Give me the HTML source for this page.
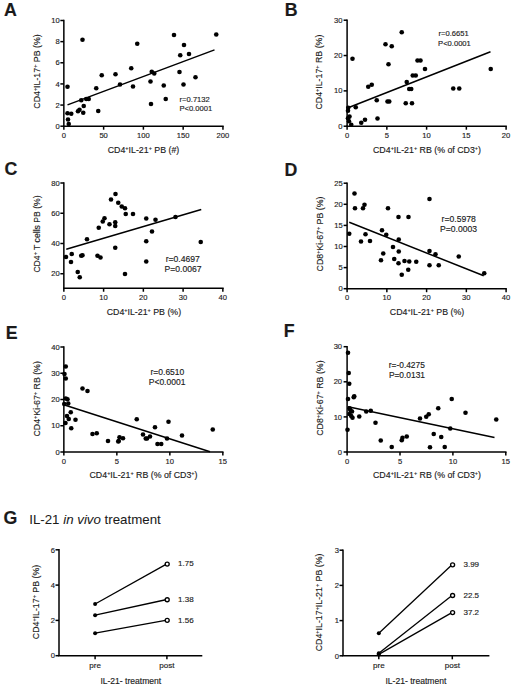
<!DOCTYPE html>
<html><head><meta charset="utf-8"><style>
html,body{margin:0;padding:0;background:#fff;}
svg{display:block;font-family:"Liberation Sans", sans-serif;}
text{stroke:#222;stroke-width:0.15px;}
</style></head><body>
<svg width="520" height="691" viewBox="0 0 520 691">
<rect width="520" height="691" fill="#fff"/>
<text x="4" y="15.9" font-size="17.8" text-anchor="start" font-weight="bold" font-style="normal" fill="#1a1a1a">A</text>
<line x1="63.85" y1="126.2" x2="63.85" y2="19.75" stroke="#000" stroke-width="1.5"/>
<line x1="63.1" y1="126.2" x2="223.7" y2="126.2" stroke="#000" stroke-width="1.5"/>
<line x1="60.35" y1="126.2" x2="63.85" y2="126.2" stroke="#000" stroke-width="1.5"/>
<text x="59.75" y="128.8" font-size="7.6" text-anchor="end" font-weight="normal" font-style="normal" fill="#1a1a1a">0</text>
<line x1="60.35" y1="105.06" x2="63.85" y2="105.06" stroke="#000" stroke-width="1.5"/>
<text x="59.75" y="107.66" font-size="7.6" text-anchor="end" font-weight="normal" font-style="normal" fill="#1a1a1a">2</text>
<line x1="60.35" y1="83.92" x2="63.85" y2="83.92" stroke="#000" stroke-width="1.5"/>
<text x="59.75" y="86.52" font-size="7.6" text-anchor="end" font-weight="normal" font-style="normal" fill="#1a1a1a">4</text>
<line x1="60.35" y1="62.78" x2="63.85" y2="62.78" stroke="#000" stroke-width="1.5"/>
<text x="59.75" y="65.38" font-size="7.6" text-anchor="end" font-weight="normal" font-style="normal" fill="#1a1a1a">6</text>
<line x1="60.35" y1="41.64" x2="63.85" y2="41.64" stroke="#000" stroke-width="1.5"/>
<text x="59.75" y="44.24" font-size="7.6" text-anchor="end" font-weight="normal" font-style="normal" fill="#1a1a1a">8</text>
<line x1="60.35" y1="20.5" x2="63.85" y2="20.5" stroke="#000" stroke-width="1.5"/>
<text x="59.75" y="23.1" font-size="7.6" text-anchor="end" font-weight="normal" font-style="normal" fill="#1a1a1a">10</text>
<line x1="63.85" y1="126.2" x2="63.85" y2="129.7" stroke="#000" stroke-width="1.5"/>
<text x="63.85" y="137.7" font-size="7.6" text-anchor="middle" font-weight="normal" font-style="normal" fill="#1a1a1a">0</text>
<line x1="103.625" y1="126.2" x2="103.625" y2="129.7" stroke="#000" stroke-width="1.5"/>
<text x="103.625" y="137.7" font-size="7.6" text-anchor="middle" font-weight="normal" font-style="normal" fill="#1a1a1a">50</text>
<line x1="143.4" y1="126.2" x2="143.4" y2="129.7" stroke="#000" stroke-width="1.5"/>
<text x="143.4" y="137.7" font-size="7.6" text-anchor="middle" font-weight="normal" font-style="normal" fill="#1a1a1a">100</text>
<line x1="183.175" y1="126.2" x2="183.175" y2="129.7" stroke="#000" stroke-width="1.5"/>
<text x="183.175" y="137.7" font-size="7.6" text-anchor="middle" font-weight="normal" font-style="normal" fill="#1a1a1a">150</text>
<line x1="222.95" y1="126.2" x2="222.95" y2="129.7" stroke="#000" stroke-width="1.5"/>
<text x="222.95" y="137.7" font-size="7.6" text-anchor="middle" font-weight="normal" font-style="normal" fill="#1a1a1a">200</text>
<text x="39.6" y="71.5" font-size="8.8" text-anchor="middle" font-weight="normal" font-style="normal" fill="#1a1a1a" transform="rotate(-90 39.6 71.5)">CD4<tspan font-size="5.5" dy="-3">+</tspan><tspan dy="3">​</tspan>IL-17<tspan font-size="5.5" dy="-3">+</tspan><tspan dy="3">​</tspan> PB (%)</text>
<text x="143.5" y="153.2" font-size="8.8" text-anchor="middle" font-weight="normal" font-style="normal" fill="#1a1a1a">CD4<tspan font-size="5.5" dy="-3">+</tspan><tspan dy="3">​</tspan>IL-21<tspan font-size="5.5" dy="-3">+</tspan><tspan dy="3">​</tspan> PB (#)</text>
<circle cx="82.5" cy="39.75" r="2.3" fill="#000"/>
<circle cx="67.5" cy="86.75" r="2.3" fill="#000"/>
<circle cx="101.75" cy="75.25" r="2.3" fill="#000"/>
<circle cx="115.5" cy="74.25" r="2.3" fill="#000"/>
<circle cx="96.25" cy="88.25" r="2.3" fill="#000"/>
<circle cx="120" cy="84.5" r="2.3" fill="#000"/>
<circle cx="81.25" cy="100.25" r="2.3" fill="#000"/>
<circle cx="86.25" cy="99" r="2.3" fill="#000"/>
<circle cx="88.75" cy="99" r="2.3" fill="#000"/>
<circle cx="83.75" cy="106" r="2.3" fill="#000"/>
<circle cx="98.25" cy="111" r="2.3" fill="#000"/>
<circle cx="78" cy="111.25" r="2.3" fill="#000"/>
<circle cx="79.5" cy="109.75" r="2.3" fill="#000"/>
<circle cx="83.25" cy="112.75" r="2.3" fill="#000"/>
<circle cx="67.5" cy="113.25" r="2.3" fill="#000"/>
<circle cx="71.25" cy="113.75" r="2.3" fill="#000"/>
<circle cx="68" cy="119.5" r="2.3" fill="#000"/>
<circle cx="68.75" cy="124" r="2.3" fill="#000"/>
<circle cx="174" cy="35" r="2.3" fill="#000"/>
<circle cx="216.25" cy="34.5" r="2.3" fill="#000"/>
<circle cx="137.25" cy="43.75" r="2.3" fill="#000"/>
<circle cx="184" cy="45" r="2.3" fill="#000"/>
<circle cx="180.25" cy="55.25" r="2.3" fill="#000"/>
<circle cx="189" cy="54" r="2.3" fill="#000"/>
<circle cx="131.25" cy="68.25" r="2.3" fill="#000"/>
<circle cx="151.75" cy="71.75" r="2.3" fill="#000"/>
<circle cx="154.25" cy="73.5" r="2.3" fill="#000"/>
<circle cx="179.5" cy="72" r="2.3" fill="#000"/>
<circle cx="195.5" cy="77.25" r="2.3" fill="#000"/>
<circle cx="133" cy="86.5" r="2.3" fill="#000"/>
<circle cx="150.5" cy="81.5" r="2.3" fill="#000"/>
<circle cx="163.75" cy="85.5" r="2.3" fill="#000"/>
<circle cx="183.5" cy="84.5" r="2.3" fill="#000"/>
<circle cx="165.75" cy="99" r="2.3" fill="#000"/>
<circle cx="151" cy="104" r="2.3" fill="#000"/>
<line x1="67.5" y1="104.9" x2="214.5" y2="49.9" stroke="#000" stroke-width="1.5"/>
<text x="179.6" y="102" font-size="7.6" text-anchor="start" font-weight="normal" font-style="normal" fill="#1a1a1a">r=0.7132</text>
<text x="179.4" y="111" font-size="7.6" text-anchor="start" font-weight="normal" font-style="normal" fill="#1a1a1a">P&lt;0.0001</text>
<text x="284.7" y="15.6" font-size="17.8" text-anchor="start" font-weight="bold" font-style="normal" fill="#1a1a1a">B</text>
<line x1="347.1" y1="126.2" x2="347.1" y2="19.45" stroke="#000" stroke-width="1.5"/>
<line x1="346.35" y1="126.2" x2="506.85" y2="126.2" stroke="#000" stroke-width="1.5"/>
<line x1="343.6" y1="126.2" x2="347.1" y2="126.2" stroke="#000" stroke-width="1.5"/>
<text x="342.4" y="128.8" font-size="7.6" text-anchor="end" font-weight="normal" font-style="normal" fill="#1a1a1a">0</text>
<line x1="343.6" y1="90.87" x2="347.1" y2="90.87" stroke="#000" stroke-width="1.5"/>
<text x="342.4" y="93.47" font-size="7.6" text-anchor="end" font-weight="normal" font-style="normal" fill="#1a1a1a">10</text>
<line x1="343.6" y1="55.54" x2="347.1" y2="55.54" stroke="#000" stroke-width="1.5"/>
<text x="342.4" y="58.14" font-size="7.6" text-anchor="end" font-weight="normal" font-style="normal" fill="#1a1a1a">20</text>
<line x1="343.6" y1="20.21" x2="347.1" y2="20.21" stroke="#000" stroke-width="1.5"/>
<text x="342.4" y="22.81" font-size="7.6" text-anchor="end" font-weight="normal" font-style="normal" fill="#1a1a1a">30</text>
<line x1="347.1" y1="126.2" x2="347.1" y2="129.7" stroke="#000" stroke-width="1.5"/>
<text x="347.1" y="137.7" font-size="7.6" text-anchor="middle" font-weight="normal" font-style="normal" fill="#1a1a1a">0</text>
<line x1="386.85" y1="126.2" x2="386.85" y2="129.7" stroke="#000" stroke-width="1.5"/>
<text x="386.85" y="137.7" font-size="7.6" text-anchor="middle" font-weight="normal" font-style="normal" fill="#1a1a1a">5</text>
<line x1="426.6" y1="126.2" x2="426.6" y2="129.7" stroke="#000" stroke-width="1.5"/>
<text x="426.6" y="137.7" font-size="7.6" text-anchor="middle" font-weight="normal" font-style="normal" fill="#1a1a1a">10</text>
<line x1="466.35" y1="126.2" x2="466.35" y2="129.7" stroke="#000" stroke-width="1.5"/>
<text x="466.35" y="137.7" font-size="7.6" text-anchor="middle" font-weight="normal" font-style="normal" fill="#1a1a1a">15</text>
<line x1="506.1" y1="126.2" x2="506.1" y2="129.7" stroke="#000" stroke-width="1.5"/>
<text x="506.1" y="137.7" font-size="7.6" text-anchor="middle" font-weight="normal" font-style="normal" fill="#1a1a1a">20</text>
<text x="322.3" y="72.1" font-size="8.8" text-anchor="middle" font-weight="normal" font-style="normal" fill="#1a1a1a" transform="rotate(-90 322.3 72.1)">CD4<tspan font-size="5.5" dy="-3">+</tspan><tspan dy="3">​</tspan>IL-17<tspan font-size="5.5" dy="-3">+</tspan><tspan dy="3">​</tspan> RB (%)</text>
<text x="427" y="153.2" font-size="8.8" text-anchor="middle" font-weight="normal" font-style="normal" fill="#1a1a1a">CD4<tspan font-size="5.5" dy="-3">+</tspan><tspan dy="3">​</tspan>IL-21<tspan font-size="5.5" dy="-3">+</tspan><tspan dy="3">​</tspan> RB (% of CD3<tspan font-size="5.5" dy="-3">+</tspan><tspan dy="3">​</tspan>)</text>
<circle cx="352.5" cy="58.75" r="2.3" fill="#000"/>
<circle cx="385.5" cy="44.25" r="2.3" fill="#000"/>
<circle cx="388.5" cy="64.25" r="2.3" fill="#000"/>
<circle cx="368.25" cy="86.75" r="2.3" fill="#000"/>
<circle cx="371.75" cy="84.75" r="2.3" fill="#000"/>
<circle cx="376.75" cy="100.25" r="2.3" fill="#000"/>
<circle cx="387.5" cy="101.5" r="2.3" fill="#000"/>
<circle cx="355.75" cy="107.25" r="2.3" fill="#000"/>
<circle cx="348.25" cy="107.75" r="2.3" fill="#000"/>
<circle cx="348" cy="110.75" r="2.3" fill="#000"/>
<circle cx="349.5" cy="116.5" r="2.3" fill="#000"/>
<circle cx="348" cy="118.25" r="2.3" fill="#000"/>
<circle cx="377.5" cy="118.5" r="2.3" fill="#000"/>
<circle cx="365" cy="119.75" r="2.3" fill="#000"/>
<circle cx="361.25" cy="122.75" r="2.3" fill="#000"/>
<circle cx="351.25" cy="124.75" r="2.3" fill="#000"/>
<circle cx="349" cy="121.25" r="2.3" fill="#000"/>
<circle cx="401.75" cy="32.25" r="2.3" fill="#000"/>
<circle cx="391.75" cy="46.25" r="2.3" fill="#000"/>
<circle cx="417.5" cy="60.5" r="2.3" fill="#000"/>
<circle cx="420.5" cy="60.5" r="2.3" fill="#000"/>
<circle cx="425" cy="69" r="2.3" fill="#000"/>
<circle cx="412.75" cy="75.5" r="2.3" fill="#000"/>
<circle cx="415.75" cy="75.5" r="2.3" fill="#000"/>
<circle cx="406.75" cy="82" r="2.3" fill="#000"/>
<circle cx="409.25" cy="89" r="2.3" fill="#000"/>
<circle cx="411.25" cy="89" r="2.3" fill="#000"/>
<circle cx="453.25" cy="88.5" r="2.3" fill="#000"/>
<circle cx="459.25" cy="88.5" r="2.3" fill="#000"/>
<circle cx="490.75" cy="69" r="2.3" fill="#000"/>
<circle cx="389.25" cy="101.5" r="2.3" fill="#000"/>
<circle cx="405.75" cy="103.25" r="2.3" fill="#000"/>
<circle cx="412" cy="103.25" r="2.3" fill="#000"/>
<line x1="348.75" y1="107.5" x2="490.5" y2="51.75" stroke="#000" stroke-width="1.5"/>
<text x="438.5" y="36" font-size="7.6" text-anchor="start" font-weight="normal" font-style="normal" fill="#1a1a1a">r=0.6651</text>
<text x="438.1" y="45.5" font-size="7.6" text-anchor="start" font-weight="normal" font-style="normal" fill="#1a1a1a">P&lt;0.0001</text>
<text x="4.5" y="174.5" font-size="17.8" text-anchor="start" font-weight="bold" font-style="normal" fill="#1a1a1a">C</text>
<line x1="63.85" y1="288.25" x2="63.85" y2="182.25" stroke="#000" stroke-width="1.5"/>
<line x1="63.1" y1="288.25" x2="223.7" y2="288.25" stroke="#000" stroke-width="1.5"/>
<line x1="60.35" y1="273.75" x2="63.85" y2="273.75" stroke="#000" stroke-width="1.5"/>
<text x="59.75" y="276.35" font-size="7.6" text-anchor="end" font-weight="normal" font-style="normal" fill="#1a1a1a">20</text>
<line x1="60.35" y1="243.5" x2="63.85" y2="243.5" stroke="#000" stroke-width="1.5"/>
<text x="59.75" y="246.1" font-size="7.6" text-anchor="end" font-weight="normal" font-style="normal" fill="#1a1a1a">40</text>
<line x1="60.35" y1="213.25" x2="63.85" y2="213.25" stroke="#000" stroke-width="1.5"/>
<text x="59.75" y="215.85" font-size="7.6" text-anchor="end" font-weight="normal" font-style="normal" fill="#1a1a1a">60</text>
<line x1="60.35" y1="183" x2="63.85" y2="183" stroke="#000" stroke-width="1.5"/>
<text x="59.75" y="185.6" font-size="7.6" text-anchor="end" font-weight="normal" font-style="normal" fill="#1a1a1a">80</text>
<line x1="63.85" y1="288.25" x2="63.85" y2="291.75" stroke="#000" stroke-width="1.5"/>
<text x="63.85" y="299.75" font-size="7.6" text-anchor="middle" font-weight="normal" font-style="normal" fill="#1a1a1a">0</text>
<line x1="103.6" y1="288.25" x2="103.6" y2="291.75" stroke="#000" stroke-width="1.5"/>
<text x="103.6" y="299.75" font-size="7.6" text-anchor="middle" font-weight="normal" font-style="normal" fill="#1a1a1a">10</text>
<line x1="143.35" y1="288.25" x2="143.35" y2="291.75" stroke="#000" stroke-width="1.5"/>
<text x="143.35" y="299.75" font-size="7.6" text-anchor="middle" font-weight="normal" font-style="normal" fill="#1a1a1a">20</text>
<line x1="183.1" y1="288.25" x2="183.1" y2="291.75" stroke="#000" stroke-width="1.5"/>
<text x="183.1" y="299.75" font-size="7.6" text-anchor="middle" font-weight="normal" font-style="normal" fill="#1a1a1a">30</text>
<line x1="222.85" y1="288.25" x2="222.85" y2="291.75" stroke="#000" stroke-width="1.5"/>
<text x="222.85" y="299.75" font-size="7.6" text-anchor="middle" font-weight="normal" font-style="normal" fill="#1a1a1a">40</text>
<text x="39.5" y="234" font-size="8.65" text-anchor="middle" font-weight="normal" font-style="normal" fill="#1a1a1a" transform="rotate(-90 39.5 234)">CD4<tspan font-size="5.5" dy="-3">+</tspan><tspan dy="3">​</tspan> T cells PB (%)</text>
<text x="143.9" y="315.2" font-size="8.8" text-anchor="middle" font-weight="normal" font-style="normal" fill="#1a1a1a">CD4<tspan font-size="5.5" dy="-3">+</tspan><tspan dy="3">​</tspan>IL-21<tspan font-size="5.5" dy="-3">+</tspan><tspan dy="3">​</tspan> PB (%)</text>
<circle cx="115.5" cy="194" r="2.3" fill="#000"/>
<circle cx="111" cy="199.5" r="2.3" fill="#000"/>
<circle cx="118.25" cy="202.75" r="2.3" fill="#000"/>
<circle cx="121.75" cy="206.5" r="2.3" fill="#000"/>
<circle cx="125" cy="208.25" r="2.3" fill="#000"/>
<circle cx="125.75" cy="214" r="2.3" fill="#000"/>
<circle cx="104.5" cy="218.25" r="2.3" fill="#000"/>
<circle cx="102.75" cy="221.5" r="2.3" fill="#000"/>
<circle cx="109.5" cy="224.25" r="2.3" fill="#000"/>
<circle cx="115.25" cy="222.25" r="2.3" fill="#000"/>
<circle cx="115.25" cy="226" r="2.3" fill="#000"/>
<circle cx="98.75" cy="227.75" r="2.3" fill="#000"/>
<circle cx="87" cy="239.25" r="2.3" fill="#000"/>
<circle cx="115.25" cy="247.75" r="2.3" fill="#000"/>
<circle cx="66" cy="257" r="2.3" fill="#000"/>
<circle cx="71.75" cy="254" r="2.3" fill="#000"/>
<circle cx="71" cy="262" r="2.3" fill="#000"/>
<circle cx="81.25" cy="255.75" r="2.3" fill="#000"/>
<circle cx="82.5" cy="255.25" r="2.3" fill="#000"/>
<circle cx="97.5" cy="255.75" r="2.3" fill="#000"/>
<circle cx="100.5" cy="257.5" r="2.3" fill="#000"/>
<circle cx="77.75" cy="272" r="2.3" fill="#000"/>
<circle cx="79.75" cy="277.25" r="2.3" fill="#000"/>
<circle cx="125" cy="274" r="2.3" fill="#000"/>
<circle cx="133" cy="214" r="2.3" fill="#000"/>
<circle cx="146.25" cy="218.5" r="2.3" fill="#000"/>
<circle cx="155.5" cy="219.75" r="2.3" fill="#000"/>
<circle cx="175.5" cy="217" r="2.3" fill="#000"/>
<circle cx="152" cy="231.5" r="2.3" fill="#000"/>
<circle cx="146.25" cy="241.25" r="2.3" fill="#000"/>
<circle cx="200.75" cy="242" r="2.3" fill="#000"/>
<circle cx="146.25" cy="261.5" r="2.3" fill="#000"/>
<line x1="66.25" y1="249.25" x2="201.25" y2="209.5" stroke="#000" stroke-width="1.5"/>
<text x="165.7" y="261.8" font-size="8.6" text-anchor="start" font-weight="normal" font-style="normal" fill="#1a1a1a">r=0.4697</text>
<text x="164.5" y="272.3" font-size="8.6" text-anchor="start" font-weight="normal" font-style="normal" fill="#1a1a1a">P=0.0067</text>
<text x="284.5" y="176.2" font-size="17.8" text-anchor="start" font-weight="bold" font-style="normal" fill="#1a1a1a">D</text>
<line x1="347.1" y1="288.7" x2="347.1" y2="182.45" stroke="#000" stroke-width="1.5"/>
<line x1="346.35" y1="288.7" x2="506.85" y2="288.7" stroke="#000" stroke-width="1.5"/>
<line x1="343.6" y1="288.7" x2="347.1" y2="288.7" stroke="#000" stroke-width="1.5"/>
<text x="342.7" y="291.3" font-size="7.6" text-anchor="end" font-weight="normal" font-style="normal" fill="#1a1a1a">0</text>
<line x1="343.6" y1="267.6" x2="347.1" y2="267.6" stroke="#000" stroke-width="1.5"/>
<text x="342.7" y="270.2" font-size="7.6" text-anchor="end" font-weight="normal" font-style="normal" fill="#1a1a1a">5</text>
<line x1="343.6" y1="246.5" x2="347.1" y2="246.5" stroke="#000" stroke-width="1.5"/>
<text x="342.7" y="249.1" font-size="7.6" text-anchor="end" font-weight="normal" font-style="normal" fill="#1a1a1a">10</text>
<line x1="343.6" y1="225.4" x2="347.1" y2="225.4" stroke="#000" stroke-width="1.5"/>
<text x="342.7" y="228" font-size="7.6" text-anchor="end" font-weight="normal" font-style="normal" fill="#1a1a1a">15</text>
<line x1="343.6" y1="204.3" x2="347.1" y2="204.3" stroke="#000" stroke-width="1.5"/>
<text x="342.7" y="206.9" font-size="7.6" text-anchor="end" font-weight="normal" font-style="normal" fill="#1a1a1a">20</text>
<line x1="343.6" y1="183.2" x2="347.1" y2="183.2" stroke="#000" stroke-width="1.5"/>
<text x="342.7" y="185.8" font-size="7.6" text-anchor="end" font-weight="normal" font-style="normal" fill="#1a1a1a">25</text>
<line x1="347.1" y1="288.7" x2="347.1" y2="292.2" stroke="#000" stroke-width="1.5"/>
<text x="347.1" y="300.2" font-size="7.6" text-anchor="middle" font-weight="normal" font-style="normal" fill="#1a1a1a">0</text>
<line x1="386.85" y1="288.7" x2="386.85" y2="292.2" stroke="#000" stroke-width="1.5"/>
<text x="386.85" y="300.2" font-size="7.6" text-anchor="middle" font-weight="normal" font-style="normal" fill="#1a1a1a">10</text>
<line x1="426.6" y1="288.7" x2="426.6" y2="292.2" stroke="#000" stroke-width="1.5"/>
<text x="426.6" y="300.2" font-size="7.6" text-anchor="middle" font-weight="normal" font-style="normal" fill="#1a1a1a">20</text>
<line x1="466.35" y1="288.7" x2="466.35" y2="292.2" stroke="#000" stroke-width="1.5"/>
<text x="466.35" y="300.2" font-size="7.6" text-anchor="middle" font-weight="normal" font-style="normal" fill="#1a1a1a">30</text>
<line x1="506.1" y1="288.7" x2="506.1" y2="292.2" stroke="#000" stroke-width="1.5"/>
<text x="506.1" y="300.2" font-size="7.6" text-anchor="middle" font-weight="normal" font-style="normal" fill="#1a1a1a">40</text>
<text x="322.5" y="234" font-size="8.8" text-anchor="middle" font-weight="normal" font-style="normal" fill="#1a1a1a" transform="rotate(-90 322.5 234)">CD8<tspan font-size="5.5" dy="-3">+</tspan><tspan dy="3">​</tspan>Ki-67<tspan font-size="5.5" dy="-3">+</tspan><tspan dy="3">​</tspan> PB (%)</text>
<text x="427" y="315" font-size="8.8" text-anchor="middle" font-weight="normal" font-style="normal" fill="#1a1a1a">CD4<tspan font-size="5.5" dy="-3">+</tspan><tspan dy="3">​</tspan>IL-21<tspan font-size="5.5" dy="-3">+</tspan><tspan dy="3">​</tspan> PB (%)</text>
<circle cx="354.5" cy="193.5" r="2.3" fill="#000"/>
<circle cx="355" cy="208.25" r="2.3" fill="#000"/>
<circle cx="364.5" cy="204.75" r="2.3" fill="#000"/>
<circle cx="363" cy="208.25" r="2.3" fill="#000"/>
<circle cx="388" cy="208.25" r="2.3" fill="#000"/>
<circle cx="349.25" cy="233.75" r="2.3" fill="#000"/>
<circle cx="361" cy="241.5" r="2.3" fill="#000"/>
<circle cx="365.5" cy="234.25" r="2.3" fill="#000"/>
<circle cx="370" cy="241" r="2.3" fill="#000"/>
<circle cx="382" cy="230.25" r="2.3" fill="#000"/>
<circle cx="386.25" cy="234.75" r="2.3" fill="#000"/>
<circle cx="383.25" cy="253.5" r="2.3" fill="#000"/>
<circle cx="381" cy="260.25" r="2.3" fill="#000"/>
<circle cx="429.5" cy="199" r="2.3" fill="#000"/>
<circle cx="398.5" cy="217" r="2.3" fill="#000"/>
<circle cx="408.5" cy="217" r="2.3" fill="#000"/>
<circle cx="398.75" cy="239.5" r="2.3" fill="#000"/>
<circle cx="393" cy="247" r="2.3" fill="#000"/>
<circle cx="398.75" cy="251.5" r="2.3" fill="#000"/>
<circle cx="394.25" cy="259" r="2.3" fill="#000"/>
<circle cx="398.5" cy="263.25" r="2.3" fill="#000"/>
<circle cx="404.5" cy="261" r="2.3" fill="#000"/>
<circle cx="409.25" cy="261.5" r="2.3" fill="#000"/>
<circle cx="416.25" cy="261.75" r="2.3" fill="#000"/>
<circle cx="408.25" cy="269.75" r="2.3" fill="#000"/>
<circle cx="401.75" cy="274.75" r="2.3" fill="#000"/>
<circle cx="429.5" cy="251" r="2.3" fill="#000"/>
<circle cx="435.5" cy="254.25" r="2.3" fill="#000"/>
<circle cx="429.5" cy="265.25" r="2.3" fill="#000"/>
<circle cx="438.75" cy="265.25" r="2.3" fill="#000"/>
<circle cx="458.75" cy="256.5" r="2.3" fill="#000"/>
<circle cx="484.25" cy="273.25" r="2.3" fill="#000"/>
<line x1="349.25" y1="222.25" x2="483.75" y2="275.75" stroke="#000" stroke-width="1.5"/>
<text x="441.6" y="221.7" font-size="8.6" text-anchor="start" font-weight="normal" font-style="normal" fill="#1a1a1a">r=0.5978</text>
<text x="440" y="231.8" font-size="8.6" text-anchor="start" font-weight="normal" font-style="normal" fill="#1a1a1a">P=0.0003</text>
<text x="5.8" y="338.5" font-size="17.8" text-anchor="start" font-weight="bold" font-style="normal" fill="#1a1a1a">E</text>
<line x1="63.85" y1="452" x2="63.85" y2="346.25" stroke="#000" stroke-width="1.5"/>
<line x1="63.1" y1="452" x2="223.5" y2="452" stroke="#000" stroke-width="1.5"/>
<line x1="60.35" y1="452" x2="63.85" y2="452" stroke="#000" stroke-width="1.5"/>
<text x="59.75" y="454.6" font-size="7.6" text-anchor="end" font-weight="normal" font-style="normal" fill="#1a1a1a">0</text>
<line x1="60.35" y1="425.75" x2="63.85" y2="425.75" stroke="#000" stroke-width="1.5"/>
<text x="59.75" y="428.35" font-size="7.6" text-anchor="end" font-weight="normal" font-style="normal" fill="#1a1a1a">10</text>
<line x1="60.35" y1="399.5" x2="63.85" y2="399.5" stroke="#000" stroke-width="1.5"/>
<text x="59.75" y="402.1" font-size="7.6" text-anchor="end" font-weight="normal" font-style="normal" fill="#1a1a1a">20</text>
<line x1="60.35" y1="373.25" x2="63.85" y2="373.25" stroke="#000" stroke-width="1.5"/>
<text x="59.75" y="375.85" font-size="7.6" text-anchor="end" font-weight="normal" font-style="normal" fill="#1a1a1a">30</text>
<line x1="60.35" y1="347" x2="63.85" y2="347" stroke="#000" stroke-width="1.5"/>
<text x="59.75" y="349.6" font-size="7.6" text-anchor="end" font-weight="normal" font-style="normal" fill="#1a1a1a">40</text>
<line x1="63.85" y1="452" x2="63.85" y2="455.5" stroke="#000" stroke-width="1.5"/>
<text x="63.85" y="463.5" font-size="7.6" text-anchor="middle" font-weight="normal" font-style="normal" fill="#1a1a1a">0</text>
<line x1="116.85" y1="452" x2="116.85" y2="455.5" stroke="#000" stroke-width="1.5"/>
<text x="116.85" y="463.5" font-size="7.6" text-anchor="middle" font-weight="normal" font-style="normal" fill="#1a1a1a">5</text>
<line x1="169.85" y1="452" x2="169.85" y2="455.5" stroke="#000" stroke-width="1.5"/>
<text x="169.85" y="463.5" font-size="7.6" text-anchor="middle" font-weight="normal" font-style="normal" fill="#1a1a1a">10</text>
<line x1="222.85" y1="452" x2="222.85" y2="455.5" stroke="#000" stroke-width="1.5"/>
<text x="222.85" y="463.5" font-size="7.6" text-anchor="middle" font-weight="normal" font-style="normal" fill="#1a1a1a">15</text>
<text x="39.6" y="398.8" font-size="8.8" text-anchor="middle" font-weight="normal" font-style="normal" fill="#1a1a1a" transform="rotate(-90 39.6 398.8)">CD4<tspan font-size="5.5" dy="-3">+</tspan><tspan dy="3">​</tspan>Ki-67<tspan font-size="5.5" dy="-3">+</tspan><tspan dy="3">​</tspan> RB (%)</text>
<text x="143.5" y="477.9" font-size="8.8" text-anchor="middle" font-weight="normal" font-style="normal" fill="#1a1a1a">CD4<tspan font-size="5.5" dy="-3">+</tspan><tspan dy="3">​</tspan>IL-21<tspan font-size="5.5" dy="-3">+</tspan><tspan dy="3">​</tspan> RB (% of CD3<tspan font-size="5.5" dy="-3">+</tspan><tspan dy="3">​</tspan>)</text>
<circle cx="65.75" cy="366.5" r="2.3" fill="#000"/>
<circle cx="64.5" cy="374" r="2.3" fill="#000"/>
<circle cx="65.75" cy="378.5" r="2.3" fill="#000"/>
<circle cx="82.5" cy="388.5" r="2.3" fill="#000"/>
<circle cx="87.5" cy="391" r="2.3" fill="#000"/>
<circle cx="65.75" cy="398.5" r="2.3" fill="#000"/>
<circle cx="67.5" cy="399.25" r="2.3" fill="#000"/>
<circle cx="68.25" cy="403.5" r="2.3" fill="#000"/>
<circle cx="64.25" cy="404" r="2.3" fill="#000"/>
<circle cx="70.75" cy="412.25" r="2.3" fill="#000"/>
<circle cx="67" cy="416" r="2.3" fill="#000"/>
<circle cx="68.75" cy="419" r="2.3" fill="#000"/>
<circle cx="75.5" cy="419.75" r="2.3" fill="#000"/>
<circle cx="65.5" cy="423" r="2.3" fill="#000"/>
<circle cx="71.25" cy="428.25" r="2.3" fill="#000"/>
<circle cx="92.5" cy="434" r="2.3" fill="#000"/>
<circle cx="96.75" cy="433.25" r="2.3" fill="#000"/>
<circle cx="108" cy="441" r="2.3" fill="#000"/>
<circle cx="118.75" cy="441" r="2.3" fill="#000"/>
<circle cx="123" cy="438.25" r="2.3" fill="#000"/>
<circle cx="119.5" cy="437.25" r="2.3" fill="#000"/>
<circle cx="136.75" cy="419.25" r="2.3" fill="#000"/>
<circle cx="168.5" cy="421.75" r="2.3" fill="#000"/>
<circle cx="155" cy="427.25" r="2.3" fill="#000"/>
<circle cx="212.75" cy="429.5" r="2.3" fill="#000"/>
<circle cx="182" cy="435.5" r="2.3" fill="#000"/>
<circle cx="143" cy="434.5" r="2.3" fill="#000"/>
<circle cx="145.75" cy="438.5" r="2.3" fill="#000"/>
<circle cx="147" cy="438.5" r="2.3" fill="#000"/>
<circle cx="150" cy="436.5" r="2.3" fill="#000"/>
<circle cx="167" cy="438.5" r="2.3" fill="#000"/>
<circle cx="118.25" cy="441.5" r="2.3" fill="#000"/>
<circle cx="157.5" cy="444" r="2.3" fill="#000"/>
<circle cx="161.25" cy="444" r="2.3" fill="#000"/>
<line x1="64.5" y1="405" x2="210" y2="451.75" stroke="#000" stroke-width="1.5"/>
<text x="150.5" y="374.8" font-size="8.5" text-anchor="start" font-weight="normal" font-style="normal" fill="#1a1a1a">r=0.6510</text>
<text x="148.75" y="385.4" font-size="8.5" text-anchor="start" font-weight="normal" font-style="normal" fill="#1a1a1a">P&lt;0.0001</text>
<text x="283.7" y="336.7" font-size="17.8" text-anchor="start" font-weight="bold" font-style="normal" fill="#1a1a1a">F</text>
<line x1="347.1" y1="452" x2="347.1" y2="345.95" stroke="#000" stroke-width="1.5"/>
<line x1="346.35" y1="452" x2="506.5" y2="452" stroke="#000" stroke-width="1.5"/>
<line x1="343.6" y1="452" x2="347.1" y2="452" stroke="#000" stroke-width="1.5"/>
<text x="342.1" y="454.6" font-size="7.6" text-anchor="end" font-weight="normal" font-style="normal" fill="#1a1a1a">0</text>
<line x1="343.6" y1="416.9" x2="347.1" y2="416.9" stroke="#000" stroke-width="1.5"/>
<text x="342.1" y="419.5" font-size="7.6" text-anchor="end" font-weight="normal" font-style="normal" fill="#1a1a1a">10</text>
<line x1="343.6" y1="381.8" x2="347.1" y2="381.8" stroke="#000" stroke-width="1.5"/>
<text x="342.1" y="384.4" font-size="7.6" text-anchor="end" font-weight="normal" font-style="normal" fill="#1a1a1a">20</text>
<line x1="343.6" y1="346.7" x2="347.1" y2="346.7" stroke="#000" stroke-width="1.5"/>
<text x="342.1" y="349.3" font-size="7.6" text-anchor="end" font-weight="normal" font-style="normal" fill="#1a1a1a">30</text>
<line x1="347.1" y1="452" x2="347.1" y2="455.5" stroke="#000" stroke-width="1.5"/>
<text x="347.1" y="463.5" font-size="7.6" text-anchor="middle" font-weight="normal" font-style="normal" fill="#1a1a1a">0</text>
<line x1="400" y1="452" x2="400" y2="455.5" stroke="#000" stroke-width="1.5"/>
<text x="400" y="463.5" font-size="7.6" text-anchor="middle" font-weight="normal" font-style="normal" fill="#1a1a1a">5</text>
<line x1="452.9" y1="452" x2="452.9" y2="455.5" stroke="#000" stroke-width="1.5"/>
<text x="452.9" y="463.5" font-size="7.6" text-anchor="middle" font-weight="normal" font-style="normal" fill="#1a1a1a">10</text>
<line x1="505.8" y1="452" x2="505.8" y2="455.5" stroke="#000" stroke-width="1.5"/>
<text x="505.8" y="463.5" font-size="7.6" text-anchor="middle" font-weight="normal" font-style="normal" fill="#1a1a1a">15</text>
<text x="322.6" y="398.1" font-size="8.8" text-anchor="middle" font-weight="normal" font-style="normal" fill="#1a1a1a" transform="rotate(-90 322.6 398.1)">CD8<tspan font-size="5.5" dy="-3">+</tspan><tspan dy="3">​</tspan>Ki-67<tspan font-size="5.5" dy="-3">+</tspan><tspan dy="3">​</tspan> RB (%)</text>
<text x="427" y="477.9" font-size="8.8" text-anchor="middle" font-weight="normal" font-style="normal" fill="#1a1a1a">CD4<tspan font-size="5.5" dy="-3">+</tspan><tspan dy="3">​</tspan>IL-21<tspan font-size="5.5" dy="-3">+</tspan><tspan dy="3">​</tspan> RB (% of CD3<tspan font-size="5.5" dy="-3">+</tspan><tspan dy="3">​</tspan>)</text>
<circle cx="348" cy="352.75" r="2.3" fill="#000"/>
<circle cx="348.75" cy="373" r="2.3" fill="#000"/>
<circle cx="349.25" cy="383.75" r="2.3" fill="#000"/>
<circle cx="348" cy="399" r="2.3" fill="#000"/>
<circle cx="354.25" cy="396.25" r="2.3" fill="#000"/>
<circle cx="353.75" cy="397.25" r="2.3" fill="#000"/>
<circle cx="349.5" cy="408.25" r="2.3" fill="#000"/>
<circle cx="350.5" cy="410.25" r="2.3" fill="#000"/>
<circle cx="352" cy="411.5" r="2.3" fill="#000"/>
<circle cx="349.5" cy="414" r="2.3" fill="#000"/>
<circle cx="352.5" cy="417.75" r="2.3" fill="#000"/>
<circle cx="351.25" cy="416" r="2.3" fill="#000"/>
<circle cx="359.25" cy="416.5" r="2.3" fill="#000"/>
<circle cx="366.25" cy="411.5" r="2.3" fill="#000"/>
<circle cx="370.75" cy="410.75" r="2.3" fill="#000"/>
<circle cx="375.5" cy="422.75" r="2.3" fill="#000"/>
<circle cx="347.5" cy="429.75" r="2.3" fill="#000"/>
<circle cx="380.75" cy="440.5" r="2.3" fill="#000"/>
<circle cx="451.75" cy="399" r="2.3" fill="#000"/>
<circle cx="438.25" cy="408.25" r="2.3" fill="#000"/>
<circle cx="465.5" cy="412.75" r="2.3" fill="#000"/>
<circle cx="428.75" cy="414.25" r="2.3" fill="#000"/>
<circle cx="426.25" cy="416.75" r="2.3" fill="#000"/>
<circle cx="420" cy="418.5" r="2.3" fill="#000"/>
<circle cx="496.25" cy="419.5" r="2.3" fill="#000"/>
<circle cx="450.25" cy="428.5" r="2.3" fill="#000"/>
<circle cx="433.75" cy="434" r="2.3" fill="#000"/>
<circle cx="441.25" cy="437" r="2.3" fill="#000"/>
<circle cx="406.75" cy="436.5" r="2.3" fill="#000"/>
<circle cx="402.5" cy="437.75" r="2.3" fill="#000"/>
<circle cx="401.75" cy="440.25" r="2.3" fill="#000"/>
<circle cx="391.75" cy="447" r="2.3" fill="#000"/>
<circle cx="430" cy="447.25" r="2.3" fill="#000"/>
<circle cx="444.75" cy="447" r="2.3" fill="#000"/>
<line x1="348" y1="406.75" x2="494.5" y2="437.5" stroke="#000" stroke-width="1.5"/>
<text x="388.75" y="368.3" font-size="8.4" text-anchor="start" font-weight="normal" font-style="normal" fill="#1a1a1a">r=-0.4275</text>
<text x="388.9" y="378.4" font-size="8.4" text-anchor="start" font-weight="normal" font-style="normal" fill="#1a1a1a">P=0.0131</text>
<text x="3.4" y="523.6" font-size="17.8" text-anchor="start" font-weight="bold" font-style="normal" fill="#1a1a1a">G</text>
<text x="29.2" y="524.4" font-size="13.3" fill="#1a1a1a" style="stroke-width:0.05px">IL-21 <tspan font-style="italic">in vivo</tspan> treatment</text>
<line x1="59" y1="655.7" x2="59" y2="549.05" stroke="#000" stroke-width="1.5"/>
<line x1="58.25" y1="655.7" x2="202.3" y2="655.7" stroke="#000" stroke-width="1.5"/>
<line x1="55.5" y1="655.7" x2="59" y2="655.7" stroke="#000" stroke-width="1.5"/>
<text x="55.1" y="658.4" font-size="7.6" text-anchor="end" font-weight="normal" font-style="normal" fill="#1a1a1a">0</text>
<line x1="55.5" y1="620.4" x2="59" y2="620.4" stroke="#000" stroke-width="1.5"/>
<text x="55.1" y="623.1" font-size="7.6" text-anchor="end" font-weight="normal" font-style="normal" fill="#1a1a1a">2</text>
<line x1="55.5" y1="585.1" x2="59" y2="585.1" stroke="#000" stroke-width="1.5"/>
<text x="55.1" y="587.8" font-size="7.6" text-anchor="end" font-weight="normal" font-style="normal" fill="#1a1a1a">4</text>
<line x1="55.5" y1="549.8" x2="59" y2="549.8" stroke="#000" stroke-width="1.5"/>
<text x="55.1" y="552.5" font-size="7.6" text-anchor="end" font-weight="normal" font-style="normal" fill="#1a1a1a">6</text>
<line x1="95.1" y1="655.7" x2="95.1" y2="659.2" stroke="#000" stroke-width="1.5"/>
<text x="95.1" y="668" font-size="8.1" text-anchor="middle" font-weight="normal" font-style="normal" fill="#1a1a1a">pre</text>
<line x1="166.9" y1="655.7" x2="166.9" y2="659.2" stroke="#000" stroke-width="1.5"/>
<text x="166.9" y="668" font-size="8.1" text-anchor="middle" font-weight="normal" font-style="normal" fill="#1a1a1a">post</text>
<line x1="95.1" y1="604" x2="166.9" y2="563.9" stroke="#000" stroke-width="1.3"/>
<line x1="95.1" y1="615.2" x2="166.9" y2="599.5" stroke="#000" stroke-width="1.3"/>
<line x1="95.1" y1="633.2" x2="166.9" y2="620.1" stroke="#000" stroke-width="1.3"/>
<circle cx="95.1" cy="604" r="2" fill="#000"/>
<circle cx="167.2" cy="564.1" r="2" fill="#fff" stroke="#000" stroke-width="1.35"/>
<circle cx="95.1" cy="615.2" r="2" fill="#000"/>
<circle cx="167.2" cy="599.7" r="2" fill="#fff" stroke="#000" stroke-width="1.35"/>
<circle cx="95.1" cy="633.2" r="2" fill="#000"/>
<circle cx="167.2" cy="620.3" r="2" fill="#fff" stroke="#000" stroke-width="1.35"/>
<text x="178.1" y="566.3" font-size="8" text-anchor="start" font-weight="normal" font-style="normal" fill="#1a1a1a">1.75</text>
<text x="178.1" y="601.9" font-size="8" text-anchor="start" font-weight="normal" font-style="normal" fill="#1a1a1a">1.38</text>
<text x="178.1" y="622.5" font-size="8" text-anchor="start" font-weight="normal" font-style="normal" fill="#1a1a1a">1.56</text>
<text x="38.8" y="602" font-size="8.8" text-anchor="middle" font-weight="normal" font-style="normal" fill="#1a1a1a" transform="rotate(-90 38.8 602)">CD4<tspan font-size="5.5" dy="-3">+</tspan><tspan dy="3">​</tspan>IL-17<tspan font-size="5.5" dy="-3">+</tspan><tspan dy="3">​</tspan> PB (%)</text>
<text x="130.8" y="683.9" font-size="8.55" text-anchor="middle" font-weight="normal" font-style="normal" fill="#1a1a1a">IL-21- treatment</text>
<line x1="343" y1="655.8" x2="343" y2="549.45" stroke="#000" stroke-width="1.5"/>
<line x1="342.25" y1="655.8" x2="489.4" y2="655.8" stroke="#000" stroke-width="1.5"/>
<line x1="339.5" y1="655.8" x2="343" y2="655.8" stroke="#000" stroke-width="1.5"/>
<text x="339.1" y="658.5" font-size="7.6" text-anchor="end" font-weight="normal" font-style="normal" fill="#1a1a1a">0</text>
<line x1="339.5" y1="620.6" x2="343" y2="620.6" stroke="#000" stroke-width="1.5"/>
<text x="339.1" y="623.3" font-size="7.6" text-anchor="end" font-weight="normal" font-style="normal" fill="#1a1a1a">1</text>
<line x1="339.5" y1="585.4" x2="343" y2="585.4" stroke="#000" stroke-width="1.5"/>
<text x="339.1" y="588.1" font-size="7.6" text-anchor="end" font-weight="normal" font-style="normal" fill="#1a1a1a">2</text>
<line x1="339.5" y1="550.2" x2="343" y2="550.2" stroke="#000" stroke-width="1.5"/>
<text x="339.1" y="552.9" font-size="7.6" text-anchor="end" font-weight="normal" font-style="normal" fill="#1a1a1a">3</text>
<line x1="378.8" y1="655.8" x2="378.8" y2="659.3" stroke="#000" stroke-width="1.5"/>
<text x="378.8" y="668.1" font-size="8.1" text-anchor="middle" font-weight="normal" font-style="normal" fill="#1a1a1a">pre</text>
<line x1="452.3" y1="655.8" x2="452.3" y2="659.3" stroke="#000" stroke-width="1.5"/>
<text x="452.3" y="668.1" font-size="8.1" text-anchor="middle" font-weight="normal" font-style="normal" fill="#1a1a1a">post</text>
<line x1="378.8" y1="633.2" x2="452.3" y2="564.6" stroke="#000" stroke-width="1.3"/>
<line x1="378.8" y1="653.3" x2="452.3" y2="595.3" stroke="#000" stroke-width="1.3"/>
<line x1="378.8" y1="654.4" x2="452.3" y2="612.4" stroke="#000" stroke-width="1.3"/>
<circle cx="378.8" cy="633.2" r="2" fill="#000"/>
<circle cx="452.6" cy="564.8" r="2" fill="#fff" stroke="#000" stroke-width="1.35"/>
<circle cx="378.8" cy="653.3" r="2" fill="#000"/>
<circle cx="452.6" cy="595.5" r="2" fill="#fff" stroke="#000" stroke-width="1.35"/>
<circle cx="378.8" cy="654.4" r="2" fill="#000"/>
<circle cx="452.6" cy="612.6" r="2" fill="#fff" stroke="#000" stroke-width="1.35"/>
<text x="463.5" y="567" font-size="8" text-anchor="start" font-weight="normal" font-style="normal" fill="#1a1a1a">3.99</text>
<text x="463.5" y="597.7" font-size="8" text-anchor="start" font-weight="normal" font-style="normal" fill="#1a1a1a">22.5</text>
<text x="463.5" y="614.8" font-size="8" text-anchor="start" font-weight="normal" font-style="normal" fill="#1a1a1a">37.2</text>
<text x="322.4" y="602.4" font-size="8.8" text-anchor="middle" font-weight="normal" font-style="normal" fill="#1a1a1a" transform="rotate(-90 322.4 602.4)">CD4<tspan font-size="5.5" dy="-3">+</tspan><tspan dy="3">​</tspan>IL-17<tspan font-size="5.5" dy="-3">+</tspan><tspan dy="3">​</tspan>IL-21<tspan font-size="5.5" dy="-3">+</tspan><tspan dy="3">​</tspan> PB (%)</text>
<text x="415.9" y="684" font-size="8.55" text-anchor="middle" font-weight="normal" font-style="normal" fill="#1a1a1a">IL-21- treatment</text>
</svg>
</body></html>
